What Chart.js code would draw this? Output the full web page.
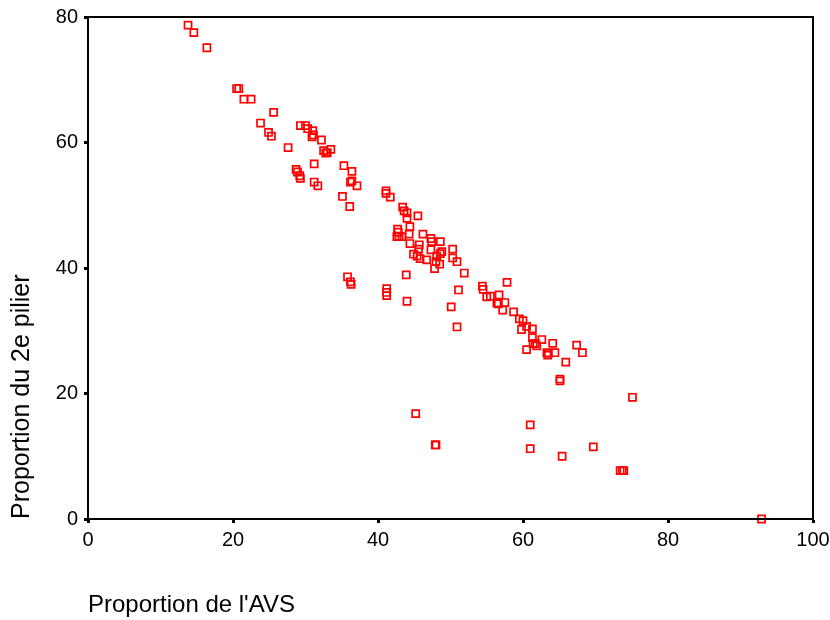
<!DOCTYPE html>
<html>
<head>
<meta charset="utf-8">
<script src="https://cdn.jsdelivr.net/npm/chart.js@4/dist/chart.umd.min.js"></script>
<style>
  html, body { margin: 0; padding: 0; background: #fff; }
  #wrap { width: 830px; height: 620px; }
</style>
</head>
<body>
<div id="wrap"><canvas id="c" width="830" height="620"></canvas></div>
<script>
const xTitle = "Proportion de l'AVS";
const yTitle = "Proportion du 2e pilier";
const xTicks = [0, 20, 40, 60, 80, 100];
const yTicks = [0, 20, 40, 60, 80];

const propAVS = [
  13.8, 14.6, 16.4, 20.5, 20.8, 21.5, 22.5, 25.6, 23.8, 24.9, 25.3, 27.6,
  29.3, 30.0, 30.3, 31.0, 31.1, 30.9, 32.2, 32.5, 33.0, 33.5, 32.8, 31.2,
  35.3, 36.4, 28.7, 28.9, 29.2, 29.3, 31.2, 31.7, 36.4, 36.2, 37.1, 35.1,
  36.1, 41.1, 41.1, 41.7, 43.4, 43.6, 44.0, 44.0, 45.5, 44.4, 42.7, 42.8,
  42.6, 42.9, 43.3, 44.3, 46.2, 47.3, 47.4, 48.6, 44.4, 45.7, 45.6, 44.9,
  45.4, 45.8, 46.7, 47.3, 48.6, 48.8, 48.1, 48.0, 48.5, 47.8, 50.3, 50.3,
  50.9, 51.9, 43.9, 35.8, 36.2, 36.3, 41.2, 41.2, 41.2, 44.0, 51.1, 50.1,
  50.9, 54.4, 54.5, 55.0, 55.5, 57.8, 56.7, 57.5, 56.6, 56.4, 57.2, 58.7,
  59.5, 60.0, 59.8, 60.5, 61.3, 61.3, 61.7, 61.4, 61.9, 62.6, 64.1, 60.5,
  63.3, 63.4, 63.5, 64.4, 67.4, 68.2, 65.9, 65.1, 65.1, 75.1, 45.2, 61.0,
  47.9, 48.0, 61.0, 65.4, 69.7, 73.4, 73.7, 73.9, 92.9
];
const prop2ePilier = [
  78.7, 77.5, 75.1, 68.6, 68.6, 66.9, 66.9, 64.8, 63.1, 61.6, 61.0, 59.2,
  62.7, 62.7, 62.2, 61.9, 61.2, 60.9, 60.4, 58.7, 58.4, 58.9, 58.3, 56.6,
  56.3, 55.4, 55.7, 55.3, 54.7, 54.3, 53.7, 53.1, 53.9, 53.7, 53.1, 51.4,
  49.8, 52.3, 51.9, 51.3, 49.7, 49.1, 48.8, 47.9, 48.3, 46.6, 46.2, 45.7,
  45.0, 45.0, 45.0, 45.4, 45.4, 44.7, 44.2, 44.2, 43.9, 43.7, 43.0, 42.2,
  41.9, 41.5, 41.3, 42.9, 42.3, 42.6, 41.9, 41.0, 40.6, 39.9, 43.0, 41.6,
  41.0, 39.2, 38.9, 38.6, 37.8, 37.4, 36.7, 36.1, 35.6, 34.7, 36.5, 33.8,
  30.6, 37.1, 36.6, 35.4, 35.5, 37.7, 35.7, 34.5, 34.3, 34.4, 33.3, 33.0,
  31.9, 31.6, 30.2, 30.7, 30.3, 28.9, 28.0, 27.9, 27.6, 28.6, 28.0, 27.0,
  26.5, 26.1, 26.4, 26.5, 27.7, 26.5, 25.0, 22.3, 22.0, 19.4, 16.8, 15.0,
  11.8, 11.8, 11.2, 10.0, 11.5, 7.7, 7.7, 7.7, 0.0
];

const points = propAVS.map((x, i) => ({ x: x, y: prop2ePilier[i] }));

const frame = {
  id: 'frame',
  afterDatasetsDraw(chart) {
    const a = chart.chartArea, ctx = chart.ctx;
    ctx.save();
    ctx.strokeStyle = '#000';
    ctx.lineWidth = 2;
    ctx.strokeRect(a.left, a.top, a.right - a.left, a.bottom - a.top);
    ctx.restore();
  }
};

const FONT = "'Liberation Sans', Arial, sans-serif";

new Chart(document.getElementById('c'), {
  type: 'scatter',
  data: {
    datasets: [{
      data: points,
      pointStyle: 'rect',
      pointRadius: 5,
      pointHoverRadius: 5,
      borderColor: '#ff0000',
      backgroundColor: 'rgba(0,0,0,0)',
      borderWidth: 1.7,
      clip: false
    }]
  },
  options: {
    responsive: false,
    animation: false,
    events: [],
    layout: { padding: { left: 0, top: 17, right: 17, bottom: 0 } },
    plugins: { legend: { display: false }, tooltip: { enabled: false } },
    scales: {
      x: {
        type: 'linear',
        min: 0, max: 100,
        afterBuildTicks: s => { s.ticks = xTicks.map(v => ({ value: v })); },
        afterFit: s => { s.height = 101; s.paddingLeft = 0; s.paddingRight = 0; },
        border: { display: true, color: '#000', width: 2 },
        grid: { drawOnChartArea: false, drawTicks: true, color: '#000', tickLength: 4, tickWidth: 3 },
        ticks: { color: '#000', font: { family: FONT, size: 20 }, padding: 5, maxRotation: 0 },
        title: {
          display: true, text: xTitle, align: 'start', color: '#000',
          font: { family: FONT, size: 24 }, padding: { top: 0, bottom: 0 }
        }
      },
      y: {
        type: 'linear',
        min: 0, max: 80,
        afterBuildTicks: s => { s.ticks = yTicks.map(v => ({ value: v })); },
        afterFit: s => { s.width = 88; s.paddingTop = 0; s.paddingBottom = 0; },
        border: { display: true, color: '#000', width: 2 },
        grid: { drawOnChartArea: false, drawTicks: true, color: '#000', tickLength: 4, tickWidth: 3 },
        ticks: { color: '#000', font: { family: FONT, size: 20 }, padding: 6 },
        title: {
          display: true, text: yTitle, align: 'start', color: '#000',
          font: { family: FONT, size: 25 }, padding: { top: 7, bottom: 0 }
        }
      }
    }
  },
  plugins: [frame]
});
</script>
</body>
</html>
